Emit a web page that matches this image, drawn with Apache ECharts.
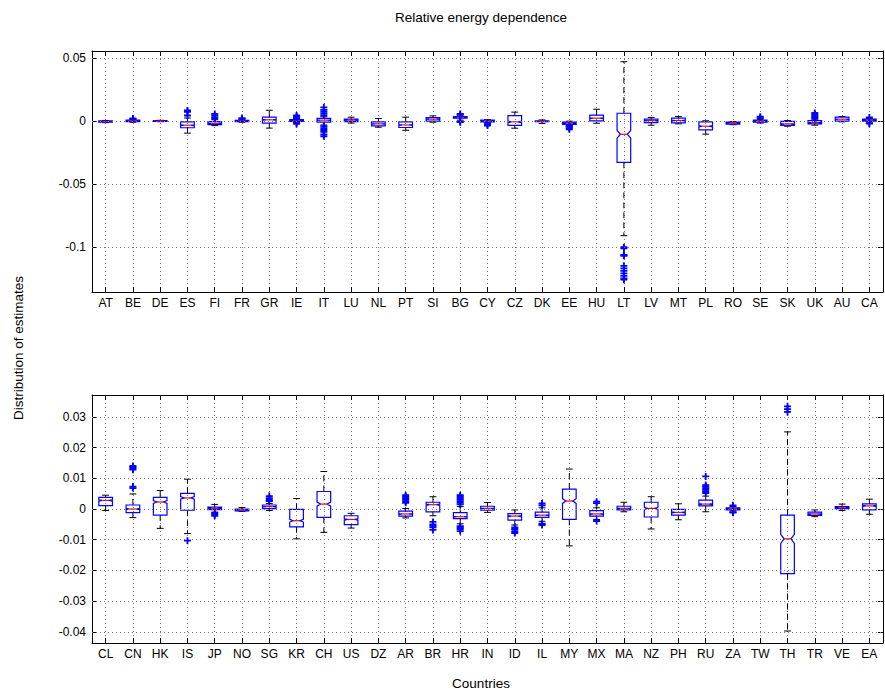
<!DOCTYPE html>
<html>
<head>
<meta charset="utf-8">
<script src="https://cdn.jsdelivr.net/npm/echarts@6/dist/echarts.min.js"></script>
<style>
html, body { margin: 0; padding: 0; background: #fff; }
#chart { width: 885px; height: 698px; }
</style>
</head>
<body>
<div id="chart"></div>
<script>
// panel 1 countries and box stats [lower whisker, q1, median, q3, upper whisker]
var topCountries = ['AT','BE','DE','ES','FI','FR','GR','IE','IT','LU','NL','PT','SI','BG','CY','CZ','DK','EE','HU','LT','LV','MT','PL','RO','SE','SK','UK','AU','CA'];
var topStats = [
  [-0.0012, -0.0008, -0.0003, 0.0002, 0.0006],
  [-0.0008, -0.0003, 0.0003, 0.0008, 0.0013],
  [-0.0004, -0.0002, 0.0001, 0.0004, 0.0007],
  [-0.0095, -0.0052, -0.0032, -0.0005, 0.0025],
  [-0.0035, -0.0028, -0.0018, -0.0004, 0.0012],
  [-0.0008, -0.0003, 0.0003, 0.0007, 0.0012],
  [-0.0055, -0.0015, 0.0011, 0.0032, 0.0087],
  [-0.0008, -0.0002, 0.0005, 0.0012, 0.002],
  [-0.003, -0.0008, 0.0008, 0.0022, 0.0035],
  [-0.0015, -0.0003, 0.0008, 0.0016, 0.0032],
  [-0.0048, -0.0037, -0.0021, -0.0005, 0.0021],
  [-0.0072, -0.005, -0.003, -0.0005, 0.0032],
  [-0.0008, 0.0, 0.0016, 0.0029, 0.0042],
  [0.0008, 0.0024, 0.003, 0.0036, 0.0048],
  [-0.0012, -0.0006, 0.0, 0.0008, 0.0012],
  [-0.0056, -0.0034, -0.0005, 0.0045, 0.0072],
  [-0.0018, -0.0003, -0.0001, 0.0002, 0.001],
  [-0.003, -0.0025, -0.0016, -0.0008, 0.0],
  [-0.0016, 0.0003, 0.0024, 0.0048, 0.0095],
  [-0.091, -0.0327, -0.0104, 0.0063, 0.0473],
  [-0.0032, -0.0011, 0.0005, 0.0016, 0.003],
  [-0.0021, -0.0013, 0.0005, 0.0024, 0.0037],
  [-0.0103, -0.0069, -0.004, -0.0005, 0.0003],
  [-0.0028, -0.0024, -0.0016, -0.0008, -0.0003],
  [-0.0015, -0.0008, 0.0, 0.0008, 0.0015],
  [-0.004, -0.0034, -0.0021, -0.0002, 0.0005],
  [-0.0032, -0.0021, -0.0011, 0.0005, 0.0016],
  [-0.0005, 0.0, 0.0016, 0.0032, 0.0037],
  [-0.0005, 0.0, 0.0008, 0.0016, 0.0021]
];
var topOutliers = [
  [], [0.0018, 0.0022], [], [0.0045, 0.0075, 0.0085], [0.002, 0.003, 0.0045, 0.0058],
  [0.0018, 0.0025], [], [0.0025, 0.0035, 0.0045, -0.0012, -0.0022],
  [0.0045, 0.006, 0.0075, 0.009, 0.011, -0.004, -0.0055, -0.007, -0.0085, -0.0105, -0.012],
  [], [], [], [], [-0.0003, -0.0008, 0.0052, 0.0058], [-0.0018, -0.0025, -0.0035], [], [],
  [-0.0038, -0.0045, -0.0055, -0.0065], [],
  [-0.1002, -0.101, -0.1064, -0.107, -0.115, -0.117, -0.119, -0.121, -0.123, -0.125, -0.126],
  [], [], [], [], [0.0025, 0.0035], [], [0.002, 0.003, 0.004, 0.005, 0.0065], [], [-0.0015, -0.002, 0.003]
];
var topTicks = [-0.1, -0.05, 0, 0.05];

// panel 2
var bottomCountries = ['CL','CN','HK','IS','JP','NO','SG','KR','CH','US','DZ','AR','BR','HR','IN','ID','IL','MY','MX','MA','NZ','PH','RU','ZA','TW','TH','TR','VE','EA'];
var bottomStats = [
  [-0.0005, 0.0011, 0.0028, 0.0038, 0.0045],
  [-0.0028, -0.0012, 0.0, 0.0013, 0.0049],
  [-0.0063, -0.002, 0.0023, 0.0038, 0.006],
  [-0.008, -0.0004, 0.0036, 0.0051, 0.0097],
  [-0.001, -0.0002, 0.0002, 0.0006, 0.0015],
  [-0.0008, -0.0006, -0.0002, 0.0, 0.0005],
  [-0.0005, 0.0001, 0.0008, 0.0013, 0.0018],
  [-0.0097, -0.0058, -0.0038, -0.0001, 0.0034],
  [-0.0076, -0.0027, 0.0016, 0.0057, 0.0122],
  [-0.0062, -0.0051, -0.0034, -0.0022, -0.0014],
  null,
  [-0.0029, -0.0023, -0.0016, -0.0007, 0.0002],
  [-0.0022, -0.0009, 0.0014, 0.0022, 0.004],
  [-0.0048, -0.0031, -0.0025, -0.0012, 0.0008],
  [-0.0011, -0.0004, 0.0002, 0.0009, 0.0021],
  [-0.0052, -0.0036, -0.0023, -0.0015, -0.0003],
  [-0.004, -0.0027, -0.002, -0.001, 0.0004],
  [-0.012, -0.0034, 0.0026, 0.0065, 0.013],
  [-0.0034, -0.0023, -0.0016, -0.0005, 0.0004],
  [-0.0009, -0.0003, 0.0002, 0.0009, 0.0022],
  [-0.0065, -0.0026, 0.0002, 0.0022, 0.004],
  [-0.0035, -0.002, -0.0011, -0.0001, 0.0017],
  [-0.0009, 0.001, 0.0016, 0.0029, 0.0042],
  [-0.0006, -0.0003, 0.0001, 0.0004, 0.0008],
  null,
  [-0.0397, -0.021, -0.0097, -0.002, 0.0251],
  [-0.0025, -0.0021, -0.0016, -0.001, -0.0003],
  [-0.0005, 0.0001, 0.0004, 0.0008, 0.0016],
  [-0.0017, -0.0003, 0.001, 0.0017, 0.0032]
];
var bottomOutliers = [
  [], [0.0068, 0.0073, 0.0128, 0.0132, 0.0136, 0.014], [], [-0.0103], [-0.0013, -0.0018, -0.0022],
  [], [0.0026, 0.003, 0.0035, 0.0042], [], [], [], [],
  [0.002, 0.0025, 0.003, 0.0035, 0.004, 0.0045],
  [-0.0042, -0.005, -0.0055, -0.006, -0.0068],
  [0.0015, 0.002, 0.0025, 0.003, 0.0035, 0.004, 0.0045, -0.0056, -0.006, -0.0065, -0.0072],
  [], [-0.006, -0.0065, -0.0072, -0.0078], [0.0012, 0.0018, -0.0048, -0.0052], [],
  [0.0019, 0.0024, -0.0039], [], [], [],
  [0.0052, 0.0058, 0.0063, 0.0068, 0.0073, 0.0078, 0.0106],
  [0.0012, -0.001, -0.0012], [], [0.0316, 0.0325, 0.0334], [], [], []
];
var bottomTicks = [-0.04, -0.03, -0.02, -0.01, 0, 0.01, 0.02, 0.03];

var sampleSize = 400; // for notch width
var font = '"Liberation Sans", Arial, Helvetica, sans-serif';
var gridDots = { color: '#777', width: 1, type: [1, 3] };

function boxData(stats) {
  var out = [];
  for (var i = 0; i < stats.length; i++) {
    if (stats[i]) out.push([i].concat(stats[i]));
  }
  return out;
}
function outlierData(list) {
  var out = [];
  for (var i = 0; i < list.length; i++) {
    for (var j = 0; j < list[i].length; j++) out.push([i, list[i][j]]);
  }
  return out;
}

function renderBox(params, api) {
  var x = api.value(0);
  var low = api.value(1), q1 = api.value(2), med = api.value(3), q3 = api.value(4), high = api.value(5);
  var hw = api.size([1, 0])[0] * 0.25;
  var cx = api.coord([x, med])[0];
  var ym = api.coord([x, med])[1];
  var yq1 = api.coord([x, q1])[1], yq3 = api.coord([x, q3])[1];
  var ylo = api.coord([x, low])[1], yhi = api.coord([x, high])[1];
  var notch = 1.57 * (q3 - q1) / Math.sqrt(sampleSize);
  var yn1 = api.coord([x, Math.max(med - notch, q1)])[1];
  var yn2 = api.coord([x, Math.min(med + notch, q3)])[1];
  var dash = { stroke: '#000', lineWidth: 1, lineDash: [6, 4], fill: null };
  var solid = { stroke: '#000', lineWidth: 1, fill: null };
  return {
    type: 'group',
    children: [
      { type: 'line', shape: { x1: cx, y1: yq3, x2: cx, y2: yhi }, style: dash },
      { type: 'line', shape: { x1: cx, y1: yq1, x2: cx, y2: ylo }, style: dash },
      { type: 'line', shape: { x1: cx - hw / 2, y1: yhi, x2: cx + hw / 2, y2: yhi }, style: solid },
      { type: 'line', shape: { x1: cx - hw / 2, y1: ylo, x2: cx + hw / 2, y2: ylo }, style: solid },
      {
        type: 'polygon',
        shape: { points: [[cx - hw, yq3], [cx + hw, yq3], [cx + hw, yn2], [cx + hw / 2, ym], [cx + hw, yn1],
                          [cx + hw, yq1], [cx - hw, yq1], [cx - hw, yn1], [cx - hw / 2, ym], [cx - hw, yn2]] },
        style: { stroke: '#0000ff', lineWidth: 1.2, fill: null }
      },
      { type: 'line', shape: { x1: cx - hw / 2, y1: ym, x2: cx + hw / 2, y2: ym }, style: { stroke: '#ff0000', lineWidth: 1.2 } }
    ]
  };
}

function catAxis(gridIndex, cats, pos) {
  var bottom = pos === 'bottom';
  return {
    type: 'category', gridIndex: gridIndex, position: pos, data: cats,
    axisLine: { show: true, onZero: false, lineStyle: { color: '#000', width: 1 } },
    axisTick: { show: true, inside: true, length: 5, alignWithLabel: true, interval: 0, lineStyle: { color: '#000' } },
    axisLabel: { show: bottom, interval: 0, margin: 5, color: '#000', fontSize: 12, fontFamily: font },
    splitLine: { show: bottom, alignWithLabel: true, interval: 0, lineStyle: gridDots }
  };
}
function valAxis(gridIndex, range, ticks, pos) {
  var left = pos === 'left';
  return {
    type: 'value', gridIndex: gridIndex, position: pos, min: range[0], max: range[1],
    axisLine: { show: true, onZero: false, lineStyle: { color: '#000', width: 1 } },
    axisTick: { show: true, inside: true, length: 5, customValues: ticks, lineStyle: { color: '#000' } },
    axisLabel: {
      show: left, customValues: ticks, margin: 6, color: '#000', fontSize: 12, fontFamily: font,
      formatter: function (v) { return String(parseFloat(v.toFixed(4))); }
    },
    splitLine: { show: false }
  };
}
// horizontal grid lines at the tick values, drawn behind the boxes
function gridLines(xIdx, yIdx, ticks) {
  return {
    type: 'line', xAxisIndex: xIdx, yAxisIndex: yIdx, data: [], z: 1, silent: true,
    markLine: {
      silent: true, symbol: ['none', 'none'], label: { show: false },
      lineStyle: gridDots, emphasis: { disabled: true },
      data: ticks.map(function (t) { return { yAxis: t }; })
    }
  };
}

var plusSymbol = 'path://M3.7,0H6.3V3.7H10V6.3H6.3V10H3.7V6.3H0V3.7H3.7Z';
var labelFont = '13.5px ' + font;

var chart = echarts.init(document.getElementById('chart'), null, { renderer: 'svg' });
chart.setOption({
  animation: false,
  backgroundColor: '#fff',
  grid: [
    { left: 92, right: 2, top: 51, height: 241 },
    { left: 92, right: 2, top: 395, height: 248 }
  ],
  xAxis: [
    catAxis(0, topCountries, 'bottom'),
    catAxis(0, topCountries, 'top'),
    catAxis(1, bottomCountries, 'bottom'),
    catAxis(1, bottomCountries, 'top')
  ],
  yAxis: [
    valAxis(0, [-0.1358, 0.0558], topTicks, 'left'),
    valAxis(0, [-0.1358, 0.0558], topTicks, 'right'),
    valAxis(1, [-0.0436, 0.0371], bottomTicks, 'left'),
    valAxis(1, [-0.0436, 0.0371], bottomTicks, 'right')
  ],
  series: [
    gridLines(0, 0, topTicks),
    gridLines(2, 2, bottomTicks),
    { type: 'custom', xAxisIndex: 0, yAxisIndex: 0, renderItem: renderBox, data: boxData(topStats),
      encode: { x: 0, y: [1, 2, 3, 4, 5] }, z: 2 },
    { type: 'scatter', xAxisIndex: 0, yAxisIndex: 0, data: outlierData(topOutliers),
      symbol: plusSymbol, symbolSize: 7, itemStyle: { color: '#0000ff', opacity: 1 }, z: 3 },
    { type: 'custom', xAxisIndex: 2, yAxisIndex: 2, renderItem: renderBox, data: boxData(bottomStats),
      encode: { x: 0, y: [1, 2, 3, 4, 5] }, z: 2 },
    { type: 'scatter', xAxisIndex: 2, yAxisIndex: 2, data: outlierData(bottomOutliers),
      symbol: plusSymbol, symbolSize: 7, itemStyle: { color: '#0000ff', opacity: 1 }, z: 3 }
  ],
  graphic: [
    { type: 'text', x: 481, y: 17, style: { text: 'Relative energy dependence', font: labelFont, fill: '#000', align: 'center', verticalAlign: 'middle' } },
    { type: 'text', x: 481, y: 683, style: { text: 'Countries', font: labelFont, fill: '#000', align: 'center', verticalAlign: 'middle' } },
    { type: 'text', x: 18, y: 348, rotation: Math.PI / 2, style: { text: 'Distribution of estimates', font: labelFont, fill: '#000', align: 'center', verticalAlign: 'middle' } }
  ]
});
</script>
</body>
</html>
